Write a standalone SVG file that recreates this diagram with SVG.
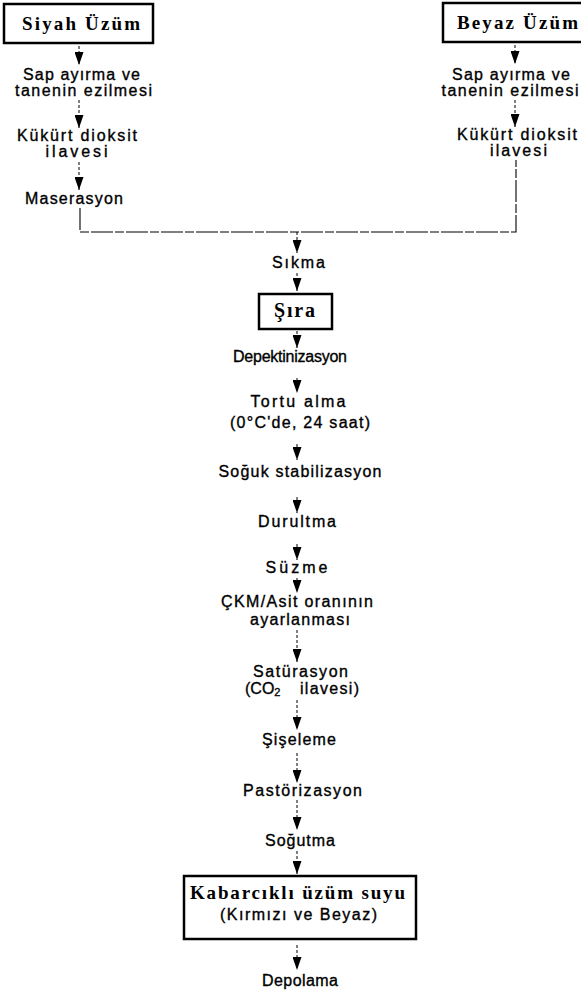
<svg xmlns="http://www.w3.org/2000/svg" width="581" height="996" viewBox="0 0 581 996">
<style>
.lbl{font-family:"Liberation Sans",Arial,sans-serif;font-size:16px;fill:#000;stroke:#000;stroke-width:0.35;text-anchor:middle}
.ttl{font-family:"Liberation Serif","Times New Roman",serif;font-weight:bold;font-size:19px;fill:#000;text-anchor:middle}
.box{fill:#fff;stroke:#000;stroke-width:2.5}
.con{stroke:#000;stroke-width:1.1;fill:none;stroke-dasharray:22 2 9 2}
.arr{stroke:#000;stroke-width:1;fill:none;stroke-dasharray:3 2;marker-end:url(#ah)}
</style>
<defs>
<marker id="ah" markerUnits="userSpaceOnUse" markerWidth="13" markerHeight="9" refX="13" refY="4.5" orient="auto">
<path d="M0,0 L13,4.5 L0,9 z" fill="#000" stroke="none"/>
</marker>
</defs>
<g id="connectors">
<line class="arr" x1="79" y1="46" x2="79" y2="65"/>
<line class="arr" x1="79" y1="100" x2="79" y2="128"/>
<line class="arr" x1="79" y1="162" x2="79" y2="190"/>
<polyline class="con" points="80,208 80,232 516,232 516,160"/>
<line class="arr" x1="515" y1="45" x2="515" y2="64"/>
<line class="arr" x1="515" y1="100" x2="515" y2="127"/>
<line class="arr" x1="297" y1="232" x2="297" y2="253"/>
<line class="arr" x1="297" y1="273" x2="297" y2="291"/>
<line class="arr" x1="297" y1="331" x2="297" y2="348"/>
<line class="arr" x1="297" y1="378" x2="297" y2="393"/>
<line class="arr" x1="297" y1="444" x2="297" y2="460"/>
<line class="arr" x1="297" y1="497" x2="297" y2="513"/>
<line class="arr" x1="297" y1="544" x2="297" y2="560"/>
<line class="arr" x1="297" y1="578" x2="297" y2="593"/>
<line class="arr" x1="297" y1="630" x2="297" y2="662"/>
<line class="arr" x1="297" y1="700" x2="297" y2="730"/>
<line class="arr" x1="297" y1="753" x2="297" y2="783"/>
<line class="arr" x1="297" y1="800" x2="297" y2="830"/>
<line class="arr" x1="297" y1="851" x2="297" y2="874"/>
<line class="arr" x1="297" y1="945" x2="297" y2="970"/>
</g>
<g id="siyah-uzum"><rect class="box" x="4" y="4" width="149" height="39"/><text class="ttl" x="81" y="30" textLength="118" lengthAdjust="spacing">Siyah Üzüm</text></g>
<g id="sap-ayirma-siyah"><text class="lbl" x="81.5" y="80" textLength="117" lengthAdjust="spacing">Sap ayırma ve</text><text class="lbl" x="83.5" y="96" textLength="137" lengthAdjust="spacing">tanenin ezilmesi</text></g>
<g id="kukurt-siyah"><text class="lbl" x="77" y="141" textLength="120" lengthAdjust="spacing">Kükürt dioksit</text><text class="lbl" x="76.5" y="157" textLength="62" lengthAdjust="spacing">ilavesi</text></g>
<g id="maserasyon"><text class="lbl" x="74" y="204" textLength="98" lengthAdjust="spacing">Maserasyon</text></g>
<g id="beyaz-uzum"><rect class="box" x="443" y="3" width="150" height="39"/><text class="ttl" x="517.5" y="29" textLength="121" lengthAdjust="spacing">Beyaz Üzüm</text></g>
<g id="sap-ayirma-beyaz"><text class="lbl" x="511" y="80" textLength="118" lengthAdjust="spacing">Sap ayırma ve</text><text class="lbl" x="510" y="96" textLength="137" lengthAdjust="spacing">tanenin ezilmesi</text></g>
<g id="kukurt-beyaz"><text class="lbl" x="517" y="140" textLength="120" lengthAdjust="spacing">Kükürt dioksit</text><text class="lbl" x="518.5" y="156" textLength="57" lengthAdjust="spacing">ilavesi</text></g>
<g id="sikma"><text class="lbl" x="298.5" y="268" textLength="53" lengthAdjust="spacing">Sıkma</text></g>
<g id="sira"><rect class="box" x="259" y="294" width="73" height="35"/><text class="ttl" x="294.5" y="317" style="font-size:20px" textLength="41" lengthAdjust="spacing">Şıra</text></g>
<g id="depektinizasyon"><text class="lbl" x="290" y="362" textLength="114" lengthAdjust="spacing">Depektinizasyon</text></g>
<g id="tortu-alma"><text class="lbl" x="298" y="407" textLength="95" lengthAdjust="spacing">Tortu alma</text><text class="lbl" x="300" y="428" textLength="140" lengthAdjust="spacing">(0°C'de, 24 saat)</text></g>
<g id="soguk-stabilizasyon"><text class="lbl" x="300" y="477" textLength="163" lengthAdjust="spacing">Soğuk stabilizasyon</text></g>
<g id="durultma"><text class="lbl" x="297" y="527" textLength="78" lengthAdjust="spacing">Durultma</text></g>
<g id="suzme"><text class="lbl" x="296.5" y="573" textLength="62" lengthAdjust="spacing">Süzme</text></g>
<g id="ckm-asit"><text class="lbl" x="297" y="607" textLength="152" lengthAdjust="spacing">ÇKM/Asit oranının</text><text class="lbl" x="300" y="625" textLength="100" lengthAdjust="spacing">ayarlanması</text></g>
<g id="saturasyon"><text class="lbl" x="300.5" y="677" textLength="95" lengthAdjust="spacing">Satürasyon</text><text class="lbl" x="245" y="694" style="text-anchor:start">(CO<tspan font-size="11" dy="2">2</tspan></text><text class="lbl" x="300" y="694" style="text-anchor:start" textLength="59" lengthAdjust="spacing">ilavesi)</text></g>
<g id="siseleme"><text class="lbl" x="299" y="745" textLength="74" lengthAdjust="spacing">Şişeleme</text></g>
<g id="pastorizasyon"><text class="lbl" x="302.5" y="796" textLength="119" lengthAdjust="spacing">Pastörizasyon</text></g>
<g id="sogutma"><text class="lbl" x="300" y="846" textLength="70" lengthAdjust="spacing">Soğutma</text></g>
<g id="kabarcikli"><rect class="box" x="184" y="876" width="232" height="63"/><text class="ttl" x="297.5" y="899" textLength="215" lengthAdjust="spacing">Kabarcıklı üzüm suyu</text><text class="lbl" x="298.5" y="920" textLength="157" lengthAdjust="spacing">(Kırmızı ve Beyaz)</text></g>
<g id="depolama"><text class="lbl" x="300" y="986" textLength="76" lengthAdjust="spacing">Depolama</text></g>
</svg>
